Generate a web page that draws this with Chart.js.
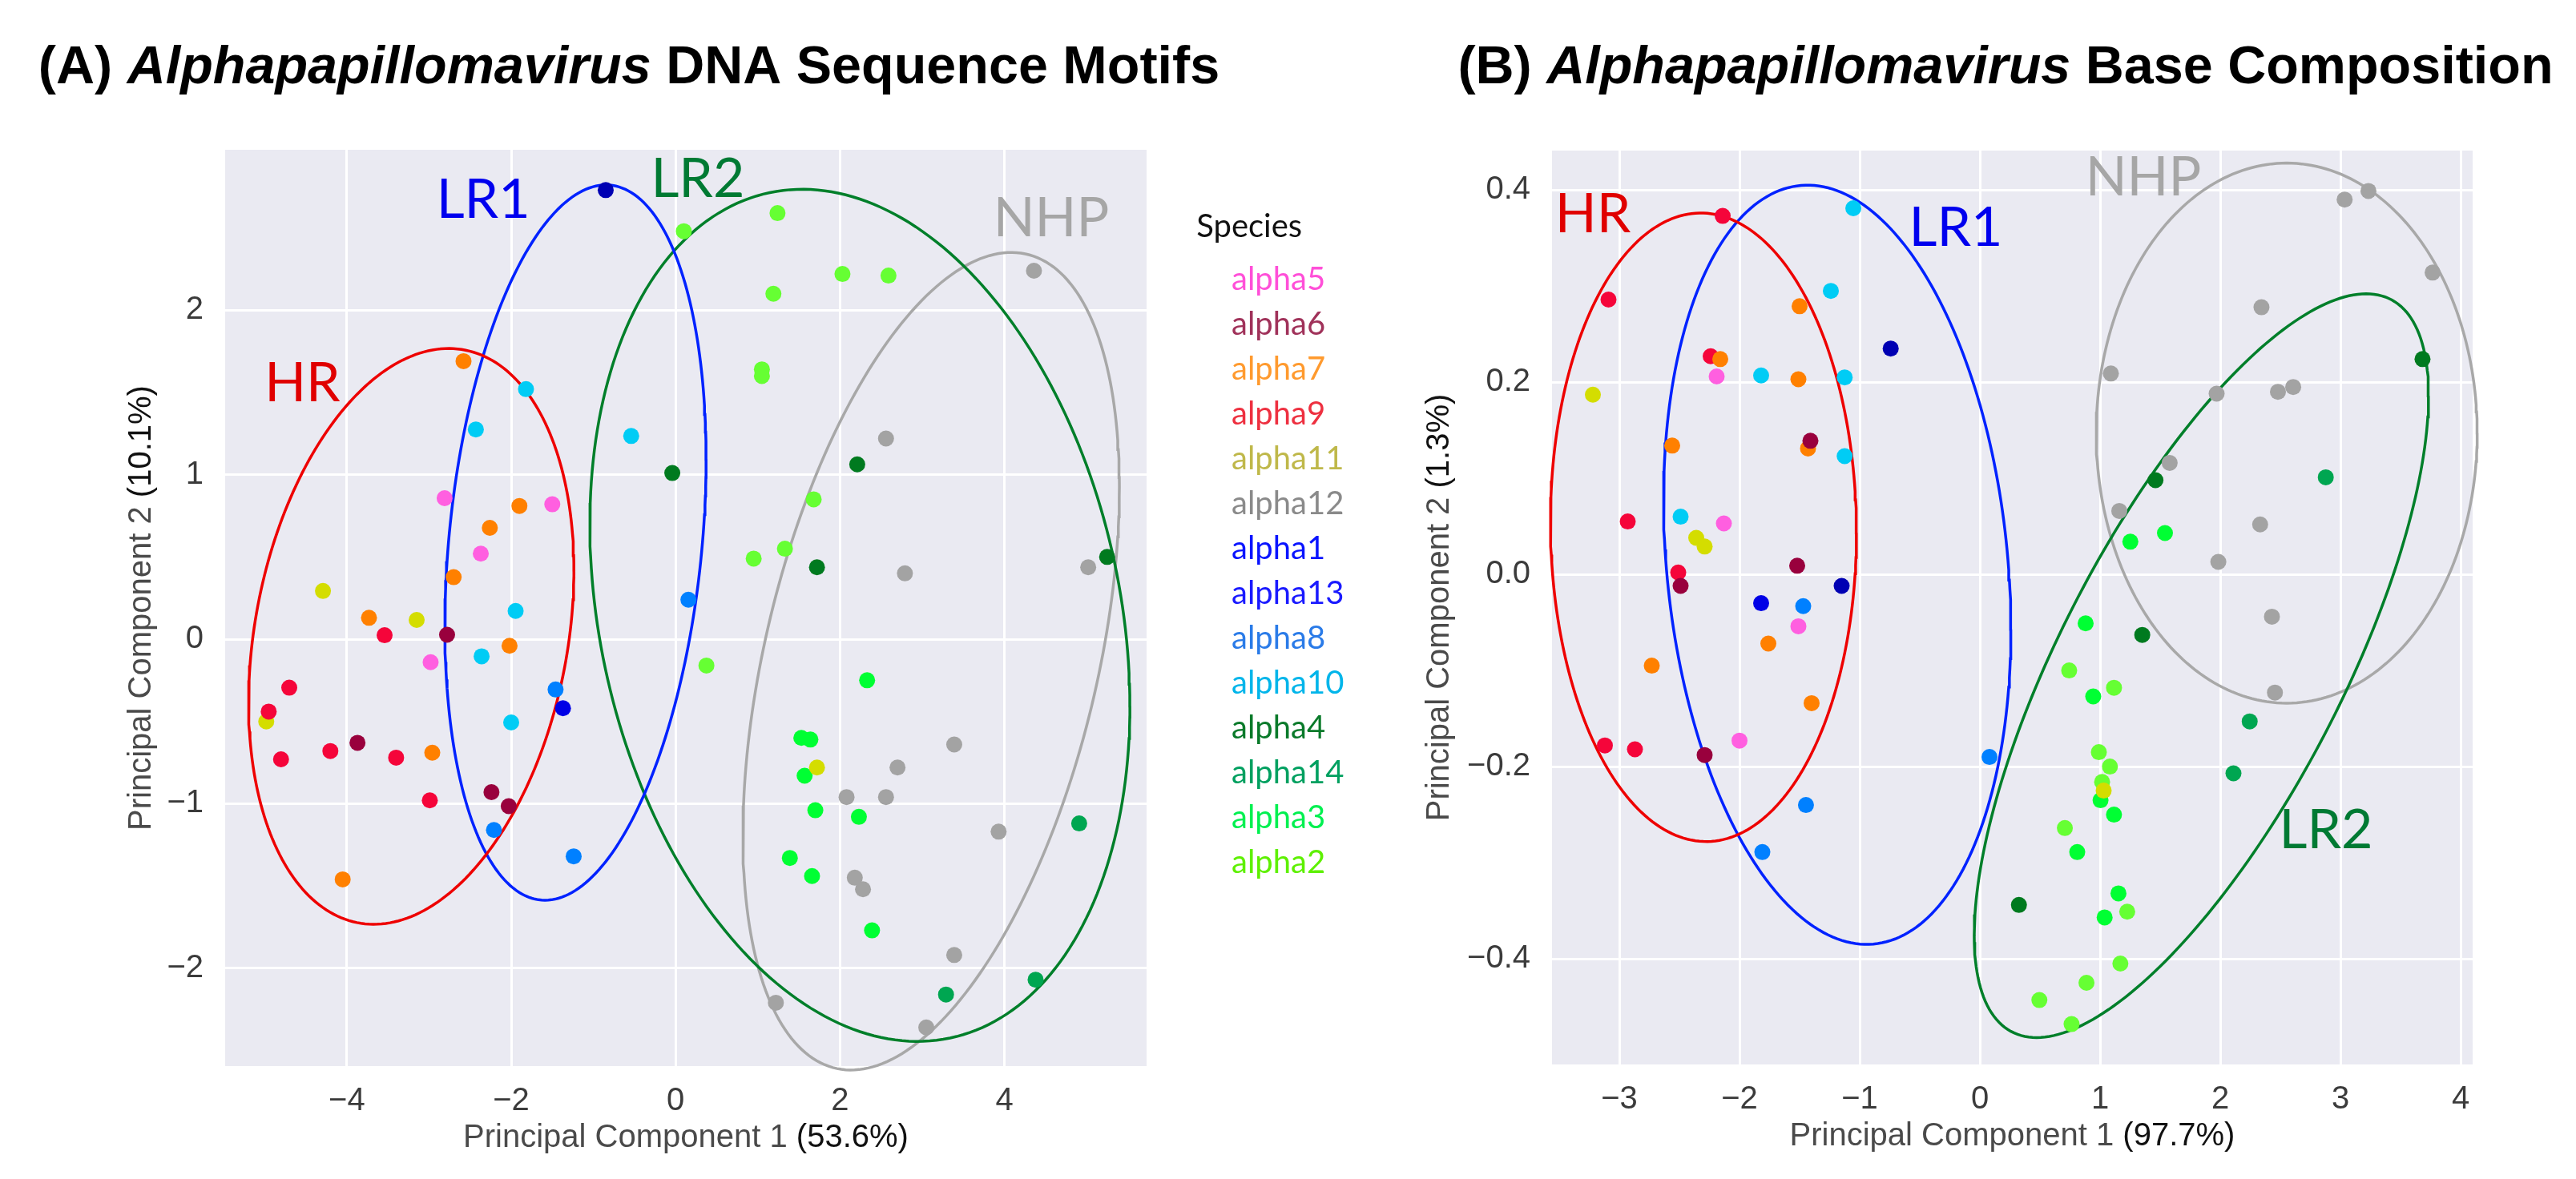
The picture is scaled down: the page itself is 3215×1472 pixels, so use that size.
<!DOCTYPE html>
<html>
<head>
<meta charset="utf-8">
<script src="https://cdn.jsdelivr.net/npm/chart.js@4.4.1/dist/chart.umd.min.js"></script>
<style>
  html, body { margin: 0; padding: 0; background: #fff; }
  #wrap { position: relative; width: 3215px; height: 1472px; overflow: hidden; }
  #cA { position: absolute; left: 0; top: 0; }
  #cB { position: absolute; left: 1690px; top: 0; }
</style>
</head>
<body>
<div id="wrap">
  <canvas id="cA" width="1690" height="1472"></canvas>
  <canvas id="cB" width="1525" height="1472"></canvas>
</div>
<script>
// species, in legend order
var SPECIES = ['alpha5', 'alpha6', 'alpha7', 'alpha9', 'alpha11', 'alpha12', 'alpha1',
               'alpha13', 'alpha8', 'alpha10', 'alpha4', 'alpha14', 'alpha3', 'alpha2'];
var POINT_COLORS = ['#ff5fe0', '#99003d', '#ff8000', '#f5053a', '#d4dd00', '#a3a3a3', '#0000b3',
                    '#0000e6', '#0080ff', '#00ccf5', '#007a1f', '#00a651', '#00ff33', '#66ff33'];
var LEGEND_COLORS = ['#ff4fd8', '#a0325a', '#ff9a2e', '#ee3040', '#bfb84a', '#8a8a8a', '#0a14ff',
                     '#1a1aff', '#2a7be8', '#00b5ea', '#0a7a2a', '#00a060', '#00f050', '#5ef000'];

// (A) DNA sequence motifs, PC1 / PC2
var A_ALPHA5  = [[-2.81, 0.857], [-1.5, 0.82], [-2.37, 0.52], [-2.98, -0.14]];
var A_ALPHA6  = [[-2.78, 0.027], [-3.87, -0.63], [-2.24, -0.93], [-2.03, -1.015]];
var A_ALPHA7  = [[-2.58, 1.69], [-1.9, 0.81], [-2.26, 0.677], [-2.70, 0.377], [-3.73, 0.13],
                 [-2.02, -0.04], [-2.96, -0.69], [-4.05, -1.46]];
var A_ALPHA9  = [[-3.54, 0.024], [-4.70, -0.295], [-4.95, -0.44], [-4.2, -0.68], [-4.80, -0.73],
                 [-3.40, -0.72], [-2.99, -0.98]];
var A_ALPHA11 = [[-4.29, 0.293], [-3.15, 0.117], [-4.98, -0.5], [1.72, -0.78]];
var A_ALPHA12 = [[4.36, 2.24], [2.56, 1.22], [2.79, 0.40], [5.02, 0.437], [3.39, -0.64], [2.70, -0.78],
                 [2.08, -0.96], [2.56, -0.96], [3.93, -1.17], [2.18, -1.45], [2.28, -1.52],
                 [3.39, -1.92], [1.22, -2.21], [3.05, -2.36]];
var A_ALPHA1  = [[-0.85, 2.73]];
var A_ALPHA13 = [[-1.37, -0.42]];
var A_ALPHA8  = [[0.156, 0.24], [-1.46, -0.306], [-2.21, -1.16], [-1.24, -1.32]];
var A_ALPHA10 = [[-1.82, 1.52], [-2.43, 1.275], [-0.54, 1.235], [-1.946, 0.172], [-2.36, -0.104],
                 [-2.0, -0.506]];
var A_ALPHA4  = [[2.21, 1.063], [-0.04, 1.01], [1.72, 0.437], [5.25, 0.5]];
var A_ALPHA14 = [[4.91, -1.12], [4.38, -2.07], [3.29, -2.16]];
var A_ALPHA3  = [[2.33, -0.25], [1.53, -0.6], [1.64, -0.61], [1.57, -0.83], [1.70, -1.04],
                 [2.23, -1.08], [1.39, -1.33], [1.66, -1.44], [2.39, -1.77]];
var A_ALPHA2  = [[1.24, 2.59], [0.1, 2.48], [2.03, 2.22], [2.59, 2.21], [1.19, 2.10], [1.05, 1.64],
                 [1.05, 1.60], [1.68, 0.85], [1.33, 0.55], [0.95, 0.49], [0.375, -0.16]];

// (B) base composition, PC1 / PC2
var B_ALPHA5  = [[-2.19, 0.206], [-2.13, 0.053], [-1.51, -0.054], [-2.0, -0.173]];
var B_ALPHA6  = [[-1.41, 0.139], [-1.52, 0.009], [-2.49, -0.012], [-2.29, -0.188]];
var B_ALPHA7  = [[-1.5, 0.279], [-2.16, 0.224], [-1.51, 0.203], [-2.56, 0.134], [-1.43, 0.131],
                 [-1.76, -0.072], [-2.73, -0.095], [-1.40, -0.134]];
var B_ALPHA9  = [[-2.14, 0.373], [-3.09, 0.286], [-2.24, 0.227], [-2.93, 0.055], [-2.51, 0.002],
                 [-3.12, -0.178], [-2.87, -0.182]];
var B_ALPHA11 = [[-3.22, 0.187], [-2.36, 0.038], [-2.29, 0.029], [1.03, -0.225]];
var B_ALPHA12 = [[3.233, 0.399], [3.035, 0.39], [3.767, 0.314], [2.343, 0.278], [1.09, 0.209],
                 [1.97, 0.188], [2.48, 0.19], [2.607, 0.195], [1.579, 0.116], [1.16, 0.066],
                 [2.332, 0.052], [1.984, 0.013], [2.43, -0.044], [2.455, -0.123]];
var B_ALPHA1  = [[-0.742, 0.235], [-1.15, -0.012]];
var B_ALPHA13 = [[-1.82, -0.03]];
var B_ALPHA8  = [[-1.47, -0.033], [0.08, -0.19], [-1.447, -0.24], [-1.81, -0.289]];
var B_ALPHA10 = [[-1.053, 0.381], [-1.24, 0.295], [-1.82, 0.207], [-1.125, 0.205], [-1.125, 0.123],
                 [-2.49, 0.06]];
var B_ALPHA4  = [[3.683, 0.224], [1.461, 0.098], [1.351, -0.063], [0.325, -0.344]];
var B_ALPHA14 = [[2.878, 0.101], [2.245, -0.153], [2.11, -0.207]];
var B_ALPHA3  = [[1.252, 0.034], [1.54, 0.043], [0.88, -0.051], [0.943, -0.127], [1.004, -0.235],
                 [1.116, -0.25], [0.81, -0.289], [1.153, -0.332], [1.038, -0.357]];
var B_ALPHA2  = [[0.743, -0.1], [1.116, -0.118], [0.99, -0.185], [1.082, -0.2], [1.017, -0.216],
                 [0.707, -0.264], [1.226, -0.351], [1.169, -0.405], [0.887, -0.425],
                 [0.495, -0.443], [0.763, -0.468]];

var A_POINTS = [A_ALPHA5, A_ALPHA6, A_ALPHA7, A_ALPHA9, A_ALPHA11, A_ALPHA12, A_ALPHA1,
                A_ALPHA13, A_ALPHA8, A_ALPHA10, A_ALPHA4, A_ALPHA14, A_ALPHA3, A_ALPHA2];
var B_POINTS = [B_ALPHA5, B_ALPHA6, B_ALPHA7, B_ALPHA9, B_ALPHA11, B_ALPHA12, B_ALPHA1,
                B_ALPHA13, B_ALPHA8, B_ALPHA10, B_ALPHA4, B_ALPHA14, B_ALPHA3, B_ALPHA2];

// group ellipses: centre x, centre y, half width, half height, tilt phase (deg)
var GROUPS = ['HR', 'LR1', 'LR2', 'NHP'];
var GROUP_LINE = ['#ee0000', '#0022ff', '#007f2a', '#a8a8a8'];
var GROUP_TEXT = ['#e00000', '#0000ee', '#007a33', '#a6a6a6'];
var A_HR  = [-3.216, 0.017, 1.979, 1.750, 76.7];
var A_LR1 = [-1.218, 0.587, 1.589, 2.174, 76.5];
var A_LR2 = [2.242, 0.145, 3.285, 2.590, 102.3];
var A_NHP = [3.109, -0.134, 2.290, 2.485, 64.8];
var B_HR  = [-2.300, 0.049, 1.273, 0.327, 91.0];
var B_LR1 = [-1.187, 0.010, 1.445, 0.395, 99.8];
var B_LR2 = [1.843, -0.095, 1.890, 0.387, 43.5];
var B_NHP = [2.553, 0.147, 1.585, 0.281, 90.0];

// group label anchors (data units)
var A_LABEL_X = [-4.54, -2.34, 0.27, 4.57];
var A_LABEL_Y = [1.553, 2.668, 2.795, 2.556];
var B_LABEL_X = [-3.22, -0.20, 2.88, 1.36];
var B_LABEL_Y = [0.374, 0.360, -0.267, 0.4125];

// ticks
var A_XTICKS = [-4, -2, 0, 2, 4];
var A_YTICKS = [-2, -1, 0, 1, 2];
var B_XTICKS = [-3, -2, -1, 0, 1, 2, 3, 4];
var B_YTICKS = [-0.4, -0.2, 0.0, 0.2, 0.4];

function ellipse(e) {
  var out = [];
  var ph = e[4] * Math.PI / 180;
  for (var i = 0; i <= 240; i++) {
    var t = i / 240 * 2 * Math.PI;
    out.push({x: e[0] + e[2] * Math.cos(t), y: e[1] + e[3] * Math.cos(t - ph)});
  }
  return out;
}

function minus(v, d) {
  var s = Math.abs(v).toFixed(d);
  return (v < 0 ? '\u2212' : '') + s;
}

function buildDatasets(points, ells) {
  var ds = [];
  points.forEach(function(arr, i) {
    ds.push({
      label: SPECIES[i],
      data: arr.map(function(p) { return {x: p[0], y: p[1]}; }),
      backgroundColor: POINT_COLORS[i],
      borderWidth: 0,
      pointRadius: 10,
      pointHoverRadius: 10,
      order: 0
    });
  });
  ells.forEach(function(e, i) {
    ds.push({
      label: GROUPS[i],
      data: ellipse(e),
      showLine: true,
      borderColor: GROUP_LINE[i],
      borderWidth: 3.5,
      pointRadius: 0,
      fill: false,
      clip: false,
      order: 1
    });
  });
  return ds;
}

var decor = {
  id: 'decor',
  beforeDraw: function(chart) {
    var a = chart.chartArea, ctx = chart.ctx;
    ctx.save();
    ctx.fillStyle = '#eaeaf2';
    ctx.fillRect(a.left, a.top, a.right - a.left, a.bottom - a.top);
    ctx.restore();
  },
  afterDraw: function(chart, args, o) {
    var ctx = chart.ctx, a = chart.chartArea;
    ctx.save();
    // panel title, mixed upright / italic
    var x = 0, total = 0;
    o.title.forEach(function(p) { ctx.font = p[1] + ' 66.5px "Liberation Sans"'; total += ctx.measureText(p[0]).width; });
    x = o.titleX - total / 2;
    ctx.fillStyle = '#000';
    ctx.textBaseline = 'middle';
    ctx.textAlign = 'left';
    o.title.forEach(function(p) {
      ctx.font = p[1] + ' 66.5px "Liberation Sans"';
      ctx.fillText(p[0], x, 86);
      x += ctx.measureText(p[0]).width;
    });

    // axis titles: grey words, black percentage
    function twoPart(parts, cx, cy, rot) {
      ctx.save();
      ctx.translate(cx, cy);
      ctx.rotate(rot);
      ctx.font = '40px "Liberation Sans"';
      var w = 0;
      parts.forEach(function(p) { w += ctx.measureText(p[0]).width; });
      var px = -w / 2;
      parts.forEach(function(p) {
        ctx.fillStyle = p[1];
        ctx.fillText(p[0], px, 0);
        px += ctx.measureText(p[0]).width;
      });
      ctx.restore();
    }
    twoPart([['Principal Component 1 ', '#4a4a4a'], [o.xPct, '#111']],
            (a.left + a.right) / 2, a.bottom + 90, 0);
    twoPart([['Principal Component 2 ', '#4a4a4a'], [o.yPct, '#111']],
            a.left - o.yTitleOffset, (a.top + a.bottom) / 2, -Math.PI / 2);

    // group labels
    var xs = chart.scales.x, ys = chart.scales.y;
    ctx.font = '68px Lato';
    ctx.textAlign = 'center';
    ctx.textBaseline = 'middle';
    GROUPS.forEach(function(g, i) {
      ctx.fillStyle = GROUP_TEXT[i];
      ctx.fillText(g, xs.getPixelForValue(o.labelX[i]), ys.getPixelForValue(o.labelY[i]));
    });
    ctx.restore();
  }
};

function axis(min, max, ticks, fmt, fitKey, fitVal, pad) {
  return {
    type: 'linear',
    min: min,
    max: max,
    afterBuildTicks: function(s) { s.ticks = ticks.map(function(v) { return {value: v}; }); },
    afterFit: function(s) { s[fitKey] = fitVal; },
    grid: {color: '#ffffff', lineWidth: 3, drawTicks: false},
    border: {display: false},
    ticks: {
      autoSkip: false,
      maxRotation: 0,
      padding: pad,
      color: '#3b3b3b',
      font: {family: 'Liberation Sans', size: 40},
      callback: function(v) { return fmt(v); }
    }
  };
}

// legend metrics so the plot area ends where the reference does
var mctx = document.createElement('canvas').getContext('2d');
mctx.font = 'normal 40px Lato';
var maxLabel = 0;
SPECIES.forEach(function(s) { maxLabel = Math.max(maxLabel, mctx.measureText(s).width); });
var LEG_BOX = 70, LEG_PAD = 16;
var legendW = LEG_PAD + LEG_BOX + 20 + maxLabel + 10;
var padRightA = 1690 - 1431 - legendW;

new Chart(document.getElementById('cA'), {
  type: 'scatter',
  data: {datasets: buildDatasets(A_POINTS, [A_HR, A_LR1, A_LR2, A_NHP])},
  options: {
    responsive: false,
    animation: false,
    devicePixelRatio: 1,
    layout: {padding: {top: 187, left: 0, right: padRightA, bottom: 0}},
    scales: {
      x: axis(-5.48, 5.73, A_XTICKS, function(v) { return minus(v, 0); }, 'height', 141, 20),
      y: axis(-2.595, 2.975, A_YTICKS, function(v) { return minus(v, 0); }, 'width', 281, 27)
    },
    plugins: {
      tooltip: {enabled: false},
      legend: {
        display: true,
        position: 'right',
        align: 'start',
        title: {
          display: true, text: 'Species', position: 'center', color: '#111',
          font: {family: 'Lato', size: 40}, padding: {top: 76, bottom: 2}
        },
        labels: {
          boxWidth: LEG_BOX,
          boxHeight: 1,
          padding: LEG_PAD,
          font: {family: 'Lato', size: 40},
          generateLabels: function() {
            return SPECIES.map(function(s, i) {
              return {text: s, fillStyle: 'rgba(0,0,0,0)', strokeStyle: 'rgba(0,0,0,0)',
                      lineWidth: 0, fontColor: LEGEND_COLORS[i], hidden: false, datasetIndex: i};
            });
          }
        }
      },
      decor: {
        title: [['(A) ', 'bold'], ['Alphapapillomavirus', 'italic bold'], [' DNA Sequence Motifs', 'bold']],
        titleX: 785,
        xPct: '(53.6%)', yPct: '(10.1%)', yTitleOffset: 104,
        labelX: A_LABEL_X, labelY: A_LABEL_Y
      }
    }
  },
  plugins: [decor]
});

new Chart(document.getElementById('cB'), {
  type: 'scatter',
  data: {datasets: buildDatasets(B_POINTS, [B_HR, B_LR1, B_LR2, B_NHP])},
  options: {
    responsive: false,
    animation: false,
    devicePixelRatio: 1,
    layout: {padding: {top: 188, left: 0, right: 129, bottom: 0}},
    scales: {
      x: axis(-3.56, 4.10, B_XTICKS, function(v) { return minus(v, 0); }, 'height', 143, 20),
      y: axis(-0.51, 0.441, B_YTICKS, function(v) { return minus(v, 1); }, 'width', 247, 27)
    },
    plugins: {
      tooltip: {enabled: false},
      legend: {display: false},
      decor: {
        title: [['(B) ', 'bold'], ['Alphapapillomavirus', 'italic bold'], [' Base Composition', 'bold']],
        titleX: 813,
        xPct: '(97.7%)', yPct: '(1.3%)', yTitleOffset: 140,
        labelX: B_LABEL_X, labelY: B_LABEL_Y
      }
    }
  },
  plugins: [decor]
});
</script>
</body>
</html>
